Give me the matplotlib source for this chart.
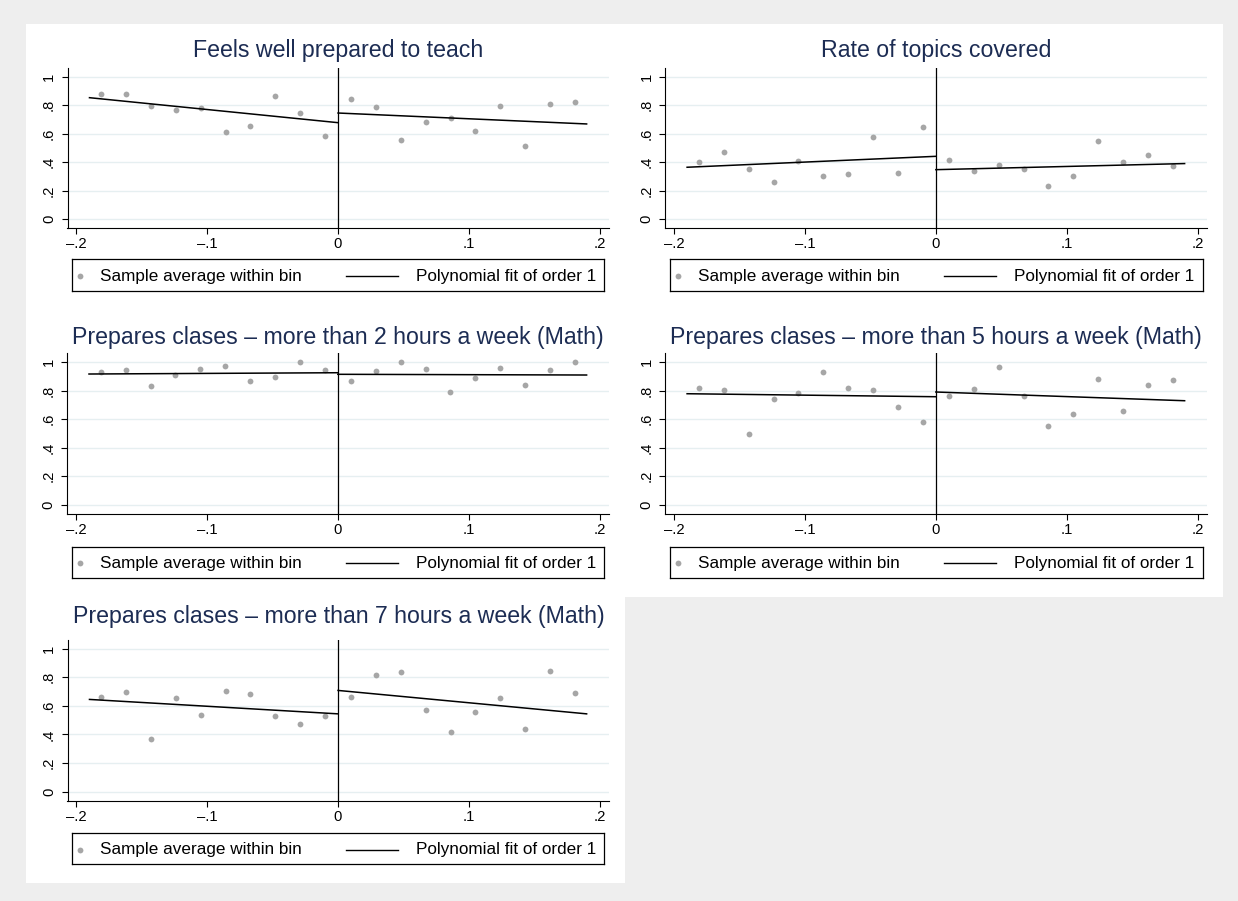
import matplotlib
matplotlib.use("Agg")
import matplotlib.pyplot as plt
from matplotlib.patches import Rectangle

plt.rcParams["font.family"] = ["Liberation Sans", "DejaVu Sans"]

# Bin centres of the running variable (left and right of the cutoff)
bins_left = [-0.181, -0.162, -0.143, -0.124, -0.105, -0.086, -0.067, -0.048, -0.029, -0.010]
bins_right = [0.010, 0.029, 0.048, 0.067, 0.086, 0.105, 0.124, 0.143, 0.162, 0.181]
fit_x_left = [-0.19, 0.0]
fit_x_right = [0.0, 0.19]

titles = [
    "Feels well prepared to teach",
    "Rate of topics covered",
    "Prepares clases \u2013 more than 2 hours a week (Math)",
    "Prepares clases \u2013 more than 5 hours a week (Math)",
    "Prepares clases \u2013 more than 7 hours a week (Math)",
]

feels_left = [0.878, 0.883, 0.798, 0.770, 0.782, 0.613, 0.657, 0.869, 0.746, 0.585]
feels_right = [0.847, 0.791, 0.556, 0.683, 0.711, 0.622, 0.798, 0.516, 0.810, 0.824]
feels_fit_left = [0.854, 0.678]
feels_fit_right = [0.746, 0.669]

topics_left = [0.401, 0.469, 0.354, 0.258, 0.411, 0.300, 0.319, 0.575, 0.324, 0.646]
topics_right = [0.415, 0.340, 0.383, 0.350, 0.235, 0.305, 0.547, 0.404, 0.453, 0.371]
topics_fit_left = [0.364, 0.441]
topics_fit_right = [0.347, 0.390]

prep2_left = [0.928, 0.942, 0.829, 0.911, 0.951, 0.974, 0.867, 0.893, 1.000, 0.946]
prep2_right = [0.867, 0.935, 1.000, 0.951, 0.790, 0.886, 0.960, 0.841, 0.946, 1.000]
prep2_fit_left = [0.916, 0.925]
prep2_fit_right = [0.914, 0.909]

prep5_left = [0.818, 0.806, 0.498, 0.738, 0.780, 0.930, 0.815, 0.806, 0.682, 0.577]
prep5_right = [0.759, 0.811, 0.963, 0.759, 0.549, 0.636, 0.883, 0.654, 0.841, 0.874]
prep5_fit_left = [0.778, 0.757]
prep5_fit_right = [0.790, 0.729]

prep7_left = [0.664, 0.694, 0.367, 0.652, 0.537, 0.706, 0.685, 0.528, 0.474, 0.528]
prep7_right = [0.659, 0.815, 0.834, 0.572, 0.414, 0.558, 0.654, 0.439, 0.841, 0.687]
prep7_fit_left = [0.645, 0.544]
prep7_fit_right = [0.708, 0.544]

x_ticks = [-0.2, -0.1, 0.0, 0.1, 0.2]
x_tick_labels = ["\u2013.2", "\u2013.1", "0", ".1", ".2"]
y_ticks = [0.0, 0.2, 0.4, 0.6, 0.8, 1.0]
y_tick_labels = ["0", ".2", ".4", ".6", ".8", "1"]

legend_labels = ["Sample average within bin", "Polynomial fit of order 1"]

panels = [
    (feels_left, feels_right, feels_fit_left, feels_fit_right),
    (topics_left, topics_right, topics_fit_left, topics_fit_right),
    (prep2_left, prep2_right, prep2_fit_left, prep2_fit_right),
    (prep5_left, prep5_right, prep5_fit_left, prep5_fit_right),
    (prep7_left, prep7_right, prep7_fit_left, prep7_fit_right),
]

W, H = 1238, 901
BG = "#eeeeee"
TITLE_C = "#1c2c53"
GRID_C = "#e6eff1"
DOT_C = "#a6a6a6"

fig = plt.figure(figsize=(W / 100, H / 100), dpi=100)
fig.patch.set_facecolor(BG)


def rect(left, top, right, bottom):
    return [left / W, 1 - bottom / H, (right - left) / W, (bottom - top) / H]


# white graph regions, kept underneath the plot areas
for (l, t, r, b) in [(26, 24, 1223, 597), (26, 596, 625, 883)]:
    fig.patches.append(Rectangle((l / W, 1 - b / H), (r - l) / W, (b - t) / H,
                                 transform=fig.transFigure, facecolor="white",
                                 edgecolor="none", zorder=-10))

# plot areas (pixels: left, top, right, bottom), title baselines, legend boxes
layout = [
    ((67.5, 68.3, 609.4, 228.3), 57.3, (71.7, 259.3, 604.3, 290.7)),
    ((665.1, 68.3, 1207.4, 228.3), 57.3, (669.7, 259.3, 1202.7, 290.7)),
    ((67.0, 353.3, 609.4, 514.3), 344.0, (71.7, 546.7, 604.3, 577.5)),
    ((665.1, 353.3, 1207.4, 514.3), 344.0, (669.7, 546.7, 1202.7, 577.5)),
    ((67.5, 640.0, 609.4, 801.0), 623.3, (71.7, 833.3, 604.3, 864.3)),
]

for (yl, yr, fl, fr), title, (ax_px, title_base, leg_px) in zip(panels, titles, layout):
    ax = fig.add_axes(rect(*ax_px))
    ax.set_facecolor("white")
    ax.set_xlim(-0.2068, 0.2074)
    ax.set_ylim(-0.066, 1.061)
    for s in ("top", "right"):
        ax.spines[s].set_visible(False)
    for s in ("left", "bottom"):
        ax.spines[s].set_linewidth(0.8)
        ax.spines[s].set_color("black")
    ax.set_xticks(x_ticks)
    ax.set_xticklabels(x_tick_labels)
    ax.set_yticks(y_ticks)
    ax.set_yticklabels(y_tick_labels, rotation=90, va="center")
    ax.tick_params(axis="both", length=4.3, width=0.8, labelsize=10.6, color="black")
    ax.tick_params(axis="x", pad=2.3)
    ax.tick_params(axis="y", pad=4)
    for y in y_ticks:
        ax.axhline(y, color=GRID_C, lw=1.0, zorder=0)
    ax.axvline(0, color="black", lw=0.9, zorder=2)
    ax.plot(bins_left, yl, "o", color=DOT_C, ms=4.2, mec="none", zorder=3)
    ax.plot(bins_right, yr, "o", color=DOT_C, ms=4.2, mec="none", zorder=3)
    ax.plot(fit_x_left, fl, color="black", lw=1.1, zorder=4)
    ax.plot(fit_x_right, fr, color="black", lw=1.1, zorder=4)

    cx = (ax_px[0] + ax_px[2]) / 2
    fig.text(cx / W, 1 - title_base / H, title, ha="center", va="baseline",
             fontsize=16.7, color=TITLE_C)

    # legend box
    l, t, r, b = leg_px
    lw_px = r - l
    lh_px = b - t
    lax = fig.add_axes(rect(l, t, r, b))
    lax.set_xlim(0, lw_px)
    lax.set_ylim(0, lh_px)
    lax.set_xticks([])
    lax.set_yticks([])
    for s in lax.spines.values():
        s.set_linewidth(0.9)
        s.set_color("black")
    yc = lh_px / 2 - 1.0
    lax.plot([8.6], [yc], "o", color=DOT_C, ms=4.2, mec="none")
    lax.text(28.8, yc, legend_labels[0], ha="left", va="center", fontsize=12.3)
    lax.plot([274.5, 326.0], [yc, yc], color="black", lw=1.0)
    lax.text(343.8, yc, legend_labels[1], ha="left", va="center", fontsize=12.3)

fig.savefig("out.png", dpi=100, facecolor=fig.get_facecolor())
